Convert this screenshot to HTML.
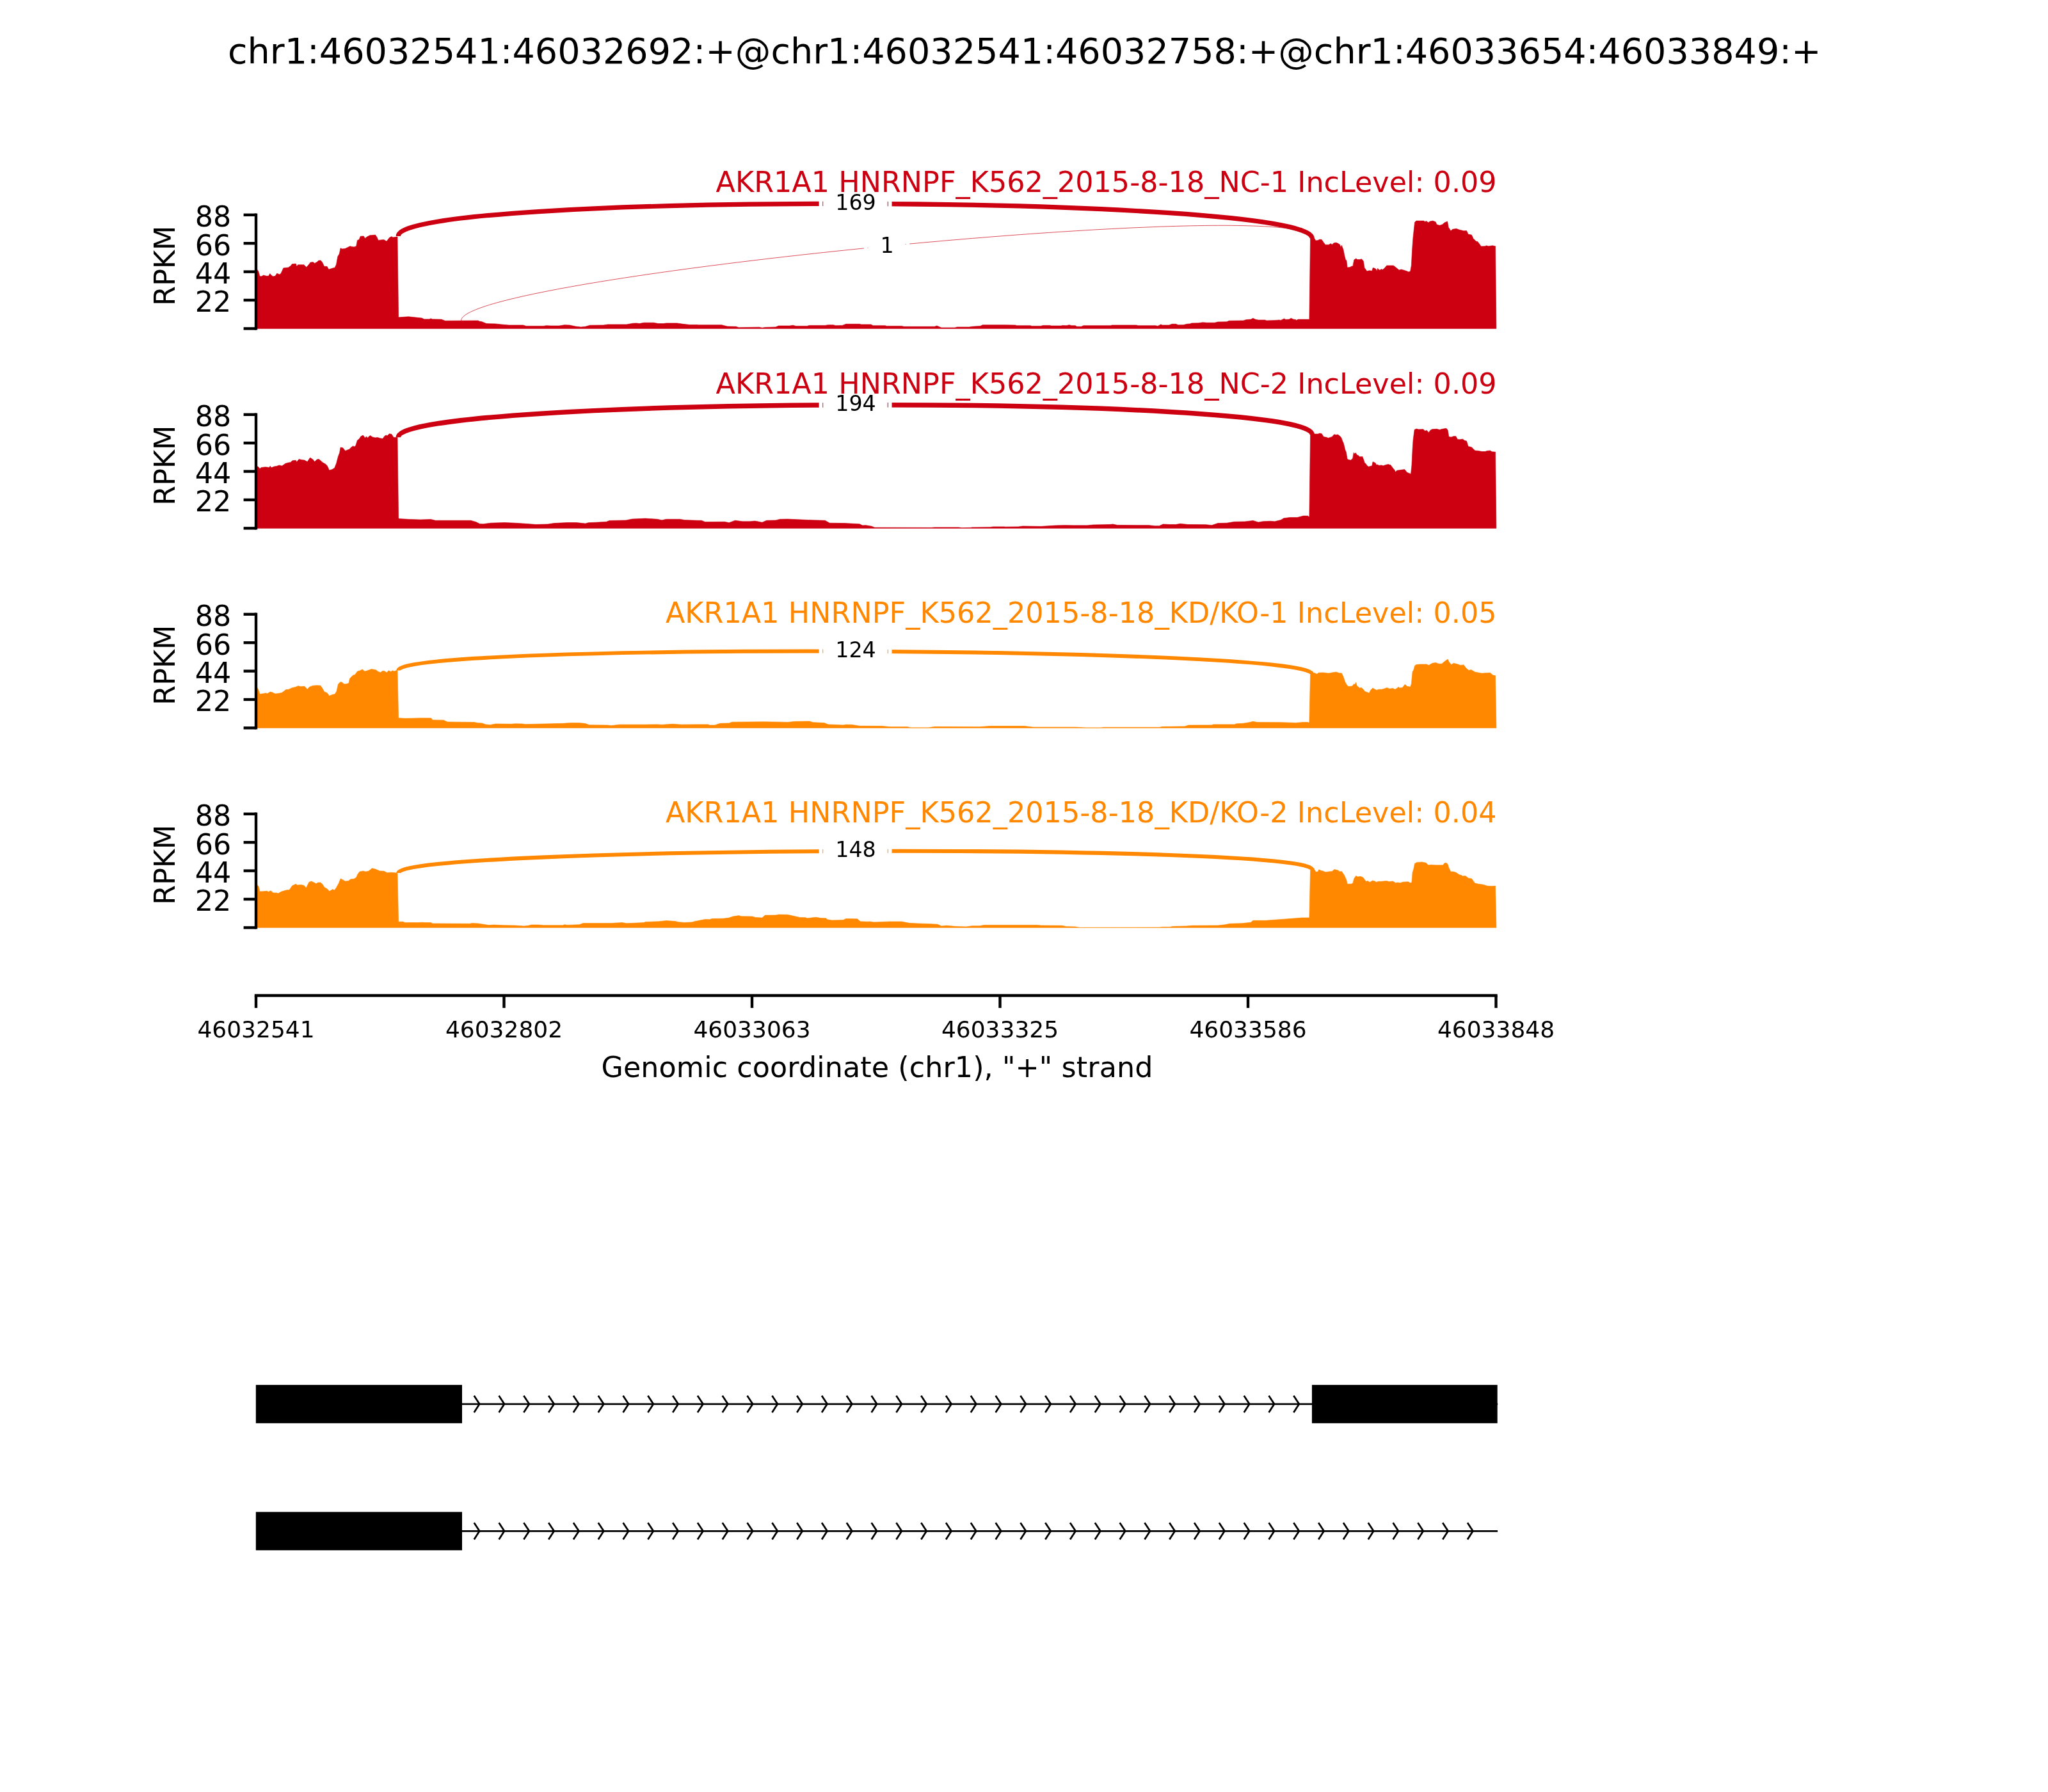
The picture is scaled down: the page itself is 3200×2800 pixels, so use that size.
<!DOCTYPE html>
<html lang="en"><head><meta charset="utf-8"><title>Sashimi plot chr1:46032541-46033849</title>
<style>
html,body{margin:0;padding:0;background:#fff;}
body{width:3200px;height:2800px;overflow:hidden;}
svg{display:block;will-change:transform;}
text{font-family:"DejaVu Sans", "Liberation Sans", sans-serif;}
.t8{font-size:44.4px;}
.t6{font-size:33.3px;}
.tx{font-size:36px;}
.ax{stroke:#000;stroke-width:4.4;fill:none;stroke-linecap:butt;}
.gm{stroke:#000;stroke-width:2.8;fill:none;stroke-linecap:butt;stroke-linejoin:miter;}
.gc{stroke-linecap:square;}
</style></head><body>
<svg width="3200" height="2800" viewBox="0 0 3200 2800">
<rect width="3200" height="2800" fill="#fff"/>
<text x="1600.8" y="98.6" text-anchor="middle" font-size="55.56px" textLength="2489.7" lengthAdjust="spacing" fill="#000">chr1:46032541:46032692:+@chr1:46032541:46032758:+@chr1:46033654:46033849:+</text>
<g>
<path d="M400 513.4L400 419.3L403.7 423.7L406 431.8L409 431.8L411.6 429.9L416 431.3L419.6 431.3L421.8 427.6L423.9 429.9L426.6 432L430.1 431.3L432.7 427.2L437.1 429L438.9 427.2L440.6 423.7L442.9 418.8L450.3 418.1L453.8 415.8L456.5 412.6L462.3 412.1L463.5 416.3L465.6 413.7L474.9 413.7L478.8 417.6L482 414L485.1 410L489 409.6L491.6 411.4L495.1 409.6L498.1 407L501.3 407L503.9 410.5L506.6 416.3L511 416.3L513.6 421.1L518.9 419.3L523.3 418.1L525.5 413.2L527.7 400.9L530.3 396.5L532.1 387.7L534.7 388.9L539.1 388.6L547 384.7L549.6 385.4L553.1 385.9L556.7 384.7L558.4 375.4L561.1 374.5L563.2 369.2L568.1 368.9L570.4 372.4L573.4 370.1L577.8 367.8L586.5 367.1L589.2 371L590.9 375.4L599.7 374.5L604.1 377.1L608.5 371.3L612 369.6L613.8 371L619.9 370.1L621 370.1L622.6 495.8L624.1 495.8L638.1 494.8L659.2 497L662.7 498.8L670.9 498.8L673.3 497.7L675.6 498.8L689.7 499.1L695.5 501.2L747.1 500.9L749.5 502.3L751.8 502.3L760 505.6L774.1 505.9L783.4 507L795.2 508L817.4 508L822.1 509.4L849.1 509.4L853.8 508.7L860.8 509.1L873.7 509.1L881.9 507.7L890.1 508L899.5 510.1L907.7 511L914.7 510.3L921.7 508.2L942.8 508L949.8 507L979.1 507L988.5 505.2L994.4 504.9L999.1 505.6L1006.1 504.2L1021.3 504.2L1028.4 505.6L1036.6 505.6L1041.2 504.9L1057.7 504.9L1067 506.3L1077.6 507.5L1090 507.5L1090 507.7L1127.5 507.7L1136.9 510.1L1149.8 510.3L1154.5 511.7L1186.1 511.2L1190.8 512.2L1195.5 511.5L1211.9 511L1216.6 509.1L1234.1 509.1L1238.8 508.2L1243.5 509.4L1261.1 509.4L1264.6 508.4L1289.2 508.4L1293.9 507.7L1302.1 507.7L1305.6 508.7L1316.2 508.4L1322 506.3L1343.1 506.3L1345.5 507L1360.7 507L1364.2 508.7L1383 508.7L1385.3 509.4L1408.8 509.4L1412.3 510.3L1460.3 510.3L1463.8 509.1L1470.9 512L1492 512L1495.5 511L1514.2 511L1518.9 510.3L1525.9 509.8L1531.8 509.4L1535.3 507.7L1570 507.7L1570 507.7L1586.4 508L1588.8 508.7L1609.8 508.7L1612.2 509.4L1626.2 509.4L1629.8 508.4L1640.3 508.4L1642.7 509.1L1657.9 509.1L1660.2 508.4L1666.1 508.7L1670.8 507.7L1674.3 508.7L1680.2 508.7L1682.5 510.3L1689.5 510.3L1693 508.7L1735.2 508.7L1737.6 508L1775.1 508L1778.6 508.7L1805.5 508.7L1809.1 509.4L1813.8 507L1816.1 508L1826.6 508L1831.3 506.3L1837.2 506.3L1840.7 507.7L1848.9 507.7L1854.8 506.3L1859.5 505.9L1861.8 504.9L1872.3 504.7L1879.4 503.8L1885.2 504.2L1898.1 504.2L1902.8 503L1916.9 502.8L1920.4 501.2L1942.7 500.9L1947.3 499.5L1954.4 499.1L1957.9 497.2L1961.4 499.1L1966.1 500L1976.6 500L1979 500.9L1991.9 500.5L1998.9 500L2001.2 500.5L2006.4 497.9L2008.8 499.3L2014.1 499.1L2017.2 497.2L2021.2 499.1L2024.7 499.5L2025.9 500.5L2028.2 499.1L2044.8 499.1L2045.9 499.3L2047.5 371.9L2053.3 371.9L2055.9 375.9L2059.4 375.4L2062.1 374.1L2065.2 374.5L2068.2 378.9L2070.9 382.4L2076.1 382.4L2079.6 380.6L2081.1 382.4L2084 379.8L2087.6 379.1L2091.1 380.6L2093.7 382.4L2094.9 386.4L2096.3 383.3L2099 390.3L2100.7 399.1L2102.5 406.1L2103.9 407L2105.1 417.9L2109.5 417.6L2111.3 416.3L2113.9 415.8L2115.7 406.1L2118.8 404L2121 405.6L2124.5 405.6L2127.5 404.7L2130.3 407.9L2132 418.4L2135.9 423.7L2139.4 422.8L2143.8 423.2L2145.2 418.4L2147.3 419L2150 420.5L2151.4 423.7L2152.6 419.3L2154.4 421.6L2156.1 422L2158.4 420.5L2160.2 421.6L2163.1 419.3L2166.7 414.9L2177.2 414.9L2180.7 417.6L2186 422L2189.5 421.1L2193.9 422.3L2198.3 423.7L2200.9 424.9L2203.6 424.1L2205.3 414.9L2206.6 390.3L2208 371L2209.7 355.2L2210.6 347.2L2212.9 345.1L2224.7 345.1L2226.4 346.4L2228.7 345.5L2231.7 347.8L2234.3 346L2238.7 345.1L2243.1 346.7L2244.9 350.8L2249.3 352.2L2253.7 350.8L2257.2 347.8L2261.6 346L2263.3 355.2L2266.9 360.8L2269.5 358.3L2275.6 357.3L2280 359L2287.1 360.8L2291.5 360.4L2294.1 366.1L2299.4 367.1L2302 372.7L2306.4 377.1L2309 377.7L2314.3 385L2320.5 384.7L2322.2 383.8L2325.7 384.7L2331.9 383.8L2336.5 384.7L2337.9 513.4L2337.9 513.4Z" fill="#CC0011" stroke="#CC0011" stroke-width="0.6" stroke-linejoin="round"/>
<path d="M622.3 368.9C622.3 299.3 2050.2 302.8 2050.2 372.3" fill="none" stroke="#CC0011" stroke-width="7.2"/>
<path d="M720.5 501C720.5 431.4 2050.2 302.7 2050.2 372.3" fill="none" stroke="#CC0011" stroke-width="0.7"/>
<rect x="1279.6" y="277.4" width="5.7" height="82" fill="#fff"/>
<rect x="1286.2" y="277.4" width="100.6" height="82" fill="#fff"/>
<rect x="1387.8" y="277.4" width="5.7" height="82" fill="#fff"/>
<text class="t6" x="1337" y="327.6" text-anchor="middle" fill="#000">169</text>
<rect x="1349.9" y="343.5" width="5.7" height="82" fill="#fff"/>
<rect x="1356.5" y="343.5" width="58.2" height="82" fill="#fff"/>
<rect x="1415.6" y="343.5" width="5.7" height="82" fill="#fff"/>
<text class="t6" x="1386" y="394.7" text-anchor="middle" fill="#000">1</text>
<path class="ax" d="M400 333.6 V515.6"/>
<path class="ax" d="M380.6 513.4 H400"/>
<path class="ax" d="M380.6 469 H400"/>
<text class="t8" x="361.2" y="487.3" text-anchor="end" fill="#000">22</text>
<path class="ax" d="M380.6 424.6 H400"/>
<text class="t8" x="361.2" y="442.9" text-anchor="end" fill="#000">44</text>
<path class="ax" d="M380.6 380.2 H400"/>
<text class="t8" x="361.2" y="398.5" text-anchor="end" fill="#000">66</text>
<path class="ax" d="M380.6 335.8 H400"/>
<text class="t8" x="361.2" y="354.1" text-anchor="end" fill="#000">88</text>
<text class="t8" transform="translate(273 415.2) rotate(-90)" text-anchor="middle" fill="#000">RPKM</text>
<text class="t8" x="2338.6" y="300" text-anchor="end" textLength="1220" lengthAdjust="spacing" fill="#CC0011">AKR1A1 HNRNPF_K562_2015-8-18_NC-1 IncLevel: 0.09</text>
</g>
<g>
<path d="M400 825.4L400 727.8L403.7 729.6L406 732.5L408.1 730.4L415.2 729.7L420.4 730.4L422.2 728.3L423.9 730.8L428.3 729L432.7 728.3L436.2 726.9L440.6 728L445.9 724.3L450.3 722.9L453.8 722.5L457.3 719.5L462.3 719.2L463.5 722L467 717.6L471.4 718.5L475.8 719L480.2 721.6L484.6 715.1L489 718.1L491.6 721.6L495.1 718.1L498.1 717.4L501.3 719.9L503.9 722.5L509.2 725.5L511.5 728.3L514.5 734.8L518.9 733.6L522.7 731.3L525.5 724.3L528.5 712.9L530.6 707.6L532.1 699.1L535.6 699.7L539.6 704.4L543.5 702.8L546.1 702L547.3 700.2L551.4 697L554 697.9L555.8 696.2L558.4 687.9L561.1 686.1L563.7 682.1L567.2 680L570.4 684.2L572.5 682.1L574.2 684.2L578.3 680.5L582.1 683L586.5 683.9L590.1 683.5L593.6 684.7L598 685.6L601.1 681.2L603.2 680L605 680.9L608.5 677.7L612 678.6L615 683.5L619.9 683.5L621 683L622.6 809.9L624.1 810.6L640.5 811.5L656.9 812L673.3 811.5L680.3 813.2L735.4 813.2L743.6 815.5L749.5 818.6L755.3 818.8L767 817.2L788.1 816.5L804.5 817.2L820.9 818.3L837.3 819.5L856.1 819L865.5 817.6L886.6 816.5L900.6 816.5L910 817.6L914.7 818.1L919.4 816.7L931.1 816.2L947.5 815.3L952.2 813.4L978 812.9L987.3 811.1L1008.4 810.1L1027.2 811.3L1034.2 812.7L1041.2 811.3L1062.3 811.3L1069.4 812.5L1090 813.2L1090 813.2L1095.9 813.2L1101.7 815.5L1132.2 815.3L1139.2 816.7L1148.6 813.2L1160.3 814.8L1172 814.8L1179.1 814.1L1183.8 814.8L1190.8 816.2L1197.8 813.2L1211.9 812.9L1218.9 811.3L1230.6 811.1L1263.4 812.5L1289.2 813.2L1296.2 817.2L1319.7 817.6L1343.1 818.8L1347.8 821.1L1352.5 820.7L1361.9 822.3L1366.6 824.2L1455.6 824.4L1460.3 824L1497.8 824L1502.5 824.7L1516.6 824.4L1518.9 824L1547 823.7L1551.7 823L1570 823L1570 823.2L1591.1 823L1598.1 822.1L1626.2 822.5L1649.7 821.1L1663.8 820.7L1677.8 820.9L1698.9 820.9L1708.3 820L1734.1 819.5L1738.8 819L1745.8 820.4L1776.2 820.7L1795 820.7L1804.4 821.8L1811.4 821.8L1817.3 819L1827.8 819.5L1837.2 819.5L1844.2 818.3L1855.9 819.5L1884.1 819.7L1893.4 820.7L1902.8 817.6L1916.9 817.2L1928.6 815.3L1945 815L1957.9 813.4L1966.1 816L1973.1 814.8L1984.8 814.3L1991.9 814.8L2001.2 812.5L2005.9 809.7L2015.3 808.5L2027 808.5L2036.4 806.1L2043.4 806.1L2044.8 807.3L2045.9 807.3L2047.5 679.1L2053.3 678.1L2059.4 678.1L2062.1 677L2065.2 677.7L2068.2 682.6L2072.6 683.3L2075.3 684.4L2081.4 682.4L2084.6 678.8L2087.6 679.5L2090.5 679.1L2093.7 681.6L2095.8 683.9L2097.6 689.1L2099.3 692.6L2101.6 702.3L2103.4 706.7L2105.1 717.3L2107.8 718.5L2110.4 719L2113.6 716.4L2115.2 707.2L2116.6 709L2118.3 707.6L2120.1 710.8L2122.2 711.6L2124.5 713.7L2128.9 713.4L2130.6 718.1L2132.4 723.4L2134.1 724.6L2136.2 727.8L2138.5 729.2L2143.8 727.8L2145 721.6L2149.1 723.4L2150.8 726.6L2152.6 726L2154.4 727.3L2158.8 726.9L2161.4 727.8L2164.9 726.4L2168.9 725.5L2172.8 726.6L2176.3 731.3L2179 734.5L2180.4 737.5L2182.5 735.2L2188.6 734.3L2194.8 733.6L2198.3 738L2200.9 739.2L2204.5 740.5L2205.9 726.9L2207.1 702.3L2208 688.2L2210.1 671.6L2212.9 670.1L2216.8 671L2223.8 670.7L2226.4 673.3L2229.4 672.4L2232.2 675.9L2235.2 672.1L2237.9 670.7L2244.9 670.3L2249.3 671.6L2253.7 670.3L2259.8 669.3L2262.1 672.1L2263.9 682.6L2267.7 683L2271.2 681.7L2274.8 681.7L2277.4 686.5L2280.9 686.8L2285.3 686.1L2288.8 688.6L2291.5 689.1L2294.1 697.4L2299.4 698.8L2304.6 704.1L2309.9 704.4L2315.2 705.5L2320.5 705.5L2324 704.4L2328.4 704.1L2331 705.8L2336.5 706.2L2337.9 825.4L2337.9 825.4Z" fill="#CC0011" stroke="#CC0011" stroke-width="0.6" stroke-linejoin="round"/>
<path d="M622.3 683.2C622.3 618.6 2050.2 614.5 2050.2 679.1" fill="none" stroke="#CC0011" stroke-width="7.5"/>
<rect x="1279.6" y="591.7" width="5.7" height="82" fill="#fff"/>
<rect x="1286.2" y="591.7" width="100.6" height="82" fill="#fff"/>
<rect x="1387.8" y="591.7" width="5.7" height="82" fill="#fff"/>
<text class="t6" x="1337" y="641.9" text-anchor="middle" fill="#000">194</text>
<path class="ax" d="M400 645.6 V827.6"/>
<path class="ax" d="M380.6 825.4 H400"/>
<path class="ax" d="M380.6 781 H400"/>
<text class="t8" x="361.2" y="799.3" text-anchor="end" fill="#000">22</text>
<path class="ax" d="M380.6 736.6 H400"/>
<text class="t8" x="361.2" y="754.9" text-anchor="end" fill="#000">44</text>
<path class="ax" d="M380.6 692.2 H400"/>
<text class="t8" x="361.2" y="710.5" text-anchor="end" fill="#000">66</text>
<path class="ax" d="M380.6 647.8 H400"/>
<text class="t8" x="361.2" y="666.1" text-anchor="end" fill="#000">88</text>
<text class="t8" transform="translate(273 727.2) rotate(-90)" text-anchor="middle" fill="#000">RPKM</text>
<text class="t8" x="2338.6" y="614.8" text-anchor="end" textLength="1220" lengthAdjust="spacing" fill="#CC0011">AKR1A1 HNRNPF_K562_2015-8-18_NC-2 IncLevel: 0.09</text>
</g>
<g>
<path d="M400 1137.4L400 1072L403.7 1077.6L406 1084.6L411.6 1083.7L415.2 1082.9L417.8 1083.7L422.2 1081.1L425.7 1082L430.1 1084.1L436.2 1083.2L440.6 1082.3L446.8 1077.6L451.2 1077.2L455.6 1075L460.9 1073.7L466.1 1071.8L469.6 1072.8L475.8 1072.3L480.2 1077.1L483.7 1073.2L489 1071.4L494.3 1070.9L500.9 1071.3L503.9 1075.8L506.9 1081.1L511 1082.5L514.5 1087.3L518.9 1085.5L523.3 1084.6L525.9 1080.2L528.5 1068.8L532.1 1065.6L534.7 1066.2L537.3 1068.8L540.8 1068.8L544.9 1067.4L546.6 1060L551.4 1055.3L554.9 1053.9L558.4 1049.1L562.8 1047.7L566.3 1046L569.8 1049.1L573.4 1048.1L580.4 1045.6L587.4 1046.8L590.9 1049.5L594.5 1050.7L598 1048.2L600.6 1048.6L604.1 1050.9L607.6 1047.7L610.3 1049.5L613.8 1047.7L615.5 1048.9L619.9 1047.4L621 1047.4L622.6 1121.9L624.1 1121.9L633.4 1122.6L656.9 1121.9L673.8 1122.1L675.6 1124.9L693.2 1125.2L699.1 1128L741.2 1128.5L745.9 1129.6L753 1129.9L758.8 1132L765.9 1132.7L774.1 1131L799.8 1131.3L804.5 1130.8L816.2 1131L820.9 1131.7L851.4 1131L879.5 1130.3L891.2 1129.6L905.3 1129.6L914.7 1130.6L920.5 1132.7L949.8 1133.1L954.5 1133.8L968.6 1132.2L1008.4 1132.2L1027.2 1132L1034.2 1132.4L1050.6 1131.3L1064.7 1132.2L1090 1132L1090 1132L1106.4 1132L1108.8 1133.1L1117 1133.1L1125.2 1130.3L1139.2 1129.9L1143.9 1128.2L1193.1 1127.8L1221.2 1128.2L1230.6 1128.5L1242.3 1127.3L1264.6 1127L1270.5 1128.7L1288 1129.6L1293.9 1132L1317.3 1132.9L1322 1132.2L1331.4 1132.4L1343.1 1134.3L1378.3 1134.5L1390 1135.7L1418.1 1135.7L1422.8 1136.9L1450.9 1136.9L1460.3 1135.5L1530.6 1135.7L1547 1134.5L1570 1134.5L1570 1134.5L1600.5 1134.5L1614.5 1136.2L1680.2 1136.2L1696.6 1137.1L1720 1137.1L1724.7 1136.4L1811.4 1136.4L1816.1 1135.5L1851.2 1135L1857.1 1133.1L1893.4 1132.9L1895.8 1132L1928.6 1132L1932.1 1130.8L1942.7 1130.3L1952 1128.7L1957.9 1127.3L1963.8 1128.5L2001.2 1128.7L2024.7 1129.4L2036.4 1128.5L2043.4 1128.5L2044.8 1129.2L2045.9 1128.6L2047.5 1053.3L2053.3 1051.2L2057.7 1053.3L2060.3 1051.2L2067.3 1050.9L2076.1 1052.1L2081.4 1050.9L2087.6 1050L2092.8 1051.8L2096.3 1051.8L2099 1057.4L2101.6 1065.3L2105.1 1071.4L2107.8 1072.7L2113 1072L2115.7 1068.5L2116.9 1069.7L2118.7 1066.2L2120.1 1071.4L2124.5 1075L2127.1 1074.4L2130.6 1077.6L2132.4 1080.2L2139.4 1082.9L2141.5 1078.5L2145 1075L2148.2 1077.1L2151.4 1078.5L2153.5 1077.2L2158.8 1077.2L2164 1075.8L2166.7 1074.6L2171.1 1076.2L2176.3 1075.5L2179.8 1077.2L2183.4 1075L2185.1 1073.2L2186.5 1075L2191.3 1074.4L2195.3 1069.3L2198.3 1072.3L2203.6 1073.2L2205.3 1068.8L2207.1 1049.5L2208.8 1046.8L2210.6 1040.3L2212.9 1038.6L2218.5 1038L2229.1 1038L2232.6 1039.4L2237.9 1036.3L2243.1 1035.4L2248.4 1037.2L2252.8 1037.2L2257.2 1033.6L2262.1 1030.1L2264.2 1034.5L2267.7 1038.6L2271.2 1036.3L2276.5 1037.5L2281.8 1039.4L2287.1 1038.9L2290.6 1043.8L2295 1047.4L2298.5 1046.5L2304.6 1050L2315.2 1052.1L2322.2 1051.6L2328.4 1051.2L2332.8 1055.1L2336.5 1055.6L2337.9 1137.4L2337.9 1137.4Z" fill="#FF8800" stroke="#FF8800" stroke-width="0.6" stroke-linejoin="round"/>
<path d="M622.3 1047.4C622.3 1003.9 2050.2 1009.8 2050.2 1053.3" fill="none" stroke="#FF8800" stroke-width="5.9"/>
<rect x="1279.6" y="976.7" width="5.7" height="82" fill="#fff"/>
<rect x="1286.2" y="976.7" width="100.6" height="82" fill="#fff"/>
<rect x="1387.8" y="976.7" width="5.7" height="82" fill="#fff"/>
<text class="t6" x="1337" y="1026.9" text-anchor="middle" fill="#000">124</text>
<path class="ax" d="M400 957.6 V1139.6"/>
<path class="ax" d="M380.6 1137.4 H400"/>
<path class="ax" d="M380.6 1093 H400"/>
<text class="t8" x="361.2" y="1111.3" text-anchor="end" fill="#000">22</text>
<path class="ax" d="M380.6 1048.6 H400"/>
<text class="t8" x="361.2" y="1066.9" text-anchor="end" fill="#000">44</text>
<path class="ax" d="M380.6 1004.2 H400"/>
<text class="t8" x="361.2" y="1022.5" text-anchor="end" fill="#000">66</text>
<path class="ax" d="M380.6 959.8 H400"/>
<text class="t8" x="361.2" y="978.1" text-anchor="end" fill="#000">88</text>
<text class="t8" transform="translate(273 1039.2) rotate(-90)" text-anchor="middle" fill="#000">RPKM</text>
<text class="t8" x="2338.6" y="972.6" text-anchor="end" textLength="1298.7" lengthAdjust="spacing" fill="#FF8800">AKR1A1 HNRNPF_K562_2015-8-18_KD/KO-1 IncLevel: 0.05</text>
</g>
<g>
<path d="M400 1449.4L400 1380.5L404.1 1385.2L406 1393.1L411.6 1392.8L416.9 1392.2L419.6 1393.5L423.1 1391.7L426.6 1394.9L432.7 1395.2L434.5 1396.1L439.8 1393.1L447.7 1390.8L452.1 1390.5L456.5 1384L462.3 1381.3L464 1382.9L470.5 1382.6L474.9 1383.4L478.4 1387.3L482.8 1378.5L486.3 1376.9L490.7 1379L493.9 1380.8L496.9 1379L500.9 1379L503.9 1381.7L506.9 1386.4L511 1388.7L514.8 1392.6L519.7 1389.6L522.4 1391L525 1387.8L529.4 1379.9L532.1 1372.9L535.6 1374.7L539.6 1376.9L544.4 1376.4L547.9 1373.8L553.1 1373.2L556.7 1371.1L558.9 1365.9L561.9 1362L567.2 1360.9L571.6 1362L576 1361.1L581.3 1356.7L586.5 1358L593.6 1360.9L599.7 1361.1L605 1363.8L610.3 1363.2L615.5 1363.6L619.9 1364.1L621 1364.6L622.6 1440.2L624.1 1440.2L629.9 1440.2L632.3 1441.4L652.2 1441.6L659.2 1441.2L665.1 1441.6L673.3 1441.4L675.6 1443L734.2 1443.3L737.7 1442.6L747.1 1443L755.3 1444.2L763.5 1445.6L771.7 1445.1L788.1 1445.8L804.5 1446.1L818.6 1447L825.6 1446.3L830.3 1445.1L842 1445.1L849.1 1445.8L879.5 1445.8L881.9 1444.7L886.6 1445.4L905.3 1444.7L911.2 1442.6L954.5 1442.6L972.1 1441.6L979.1 1442.8L1006.1 1441.6L1008.4 1440.5L1029.5 1439.8L1041.2 1438.6L1055.3 1439.5L1060 1440.7L1069.4 1441.4L1081.1 1440.9L1087 1439.3L1090 1439L1090 1438.8L1101.7 1436.5L1108.8 1436.7L1112.3 1435.5L1129.8 1435.3L1139.2 1434.1L1145.1 1432L1154.5 1430.6L1158 1431.8L1175.5 1432L1180.2 1433.4L1190.8 1434.1L1195.5 1430.1L1211.9 1429.9L1216.6 1429L1230.6 1429.2L1240 1431.3L1249.4 1433.4L1258.8 1433.7L1261.1 1434.8L1275.2 1433.2L1282.2 1434.6L1290.4 1434.8L1292.7 1436.7L1299.8 1437.9L1317.3 1437.6L1322 1435.5L1339.6 1435.8L1344.3 1439.8L1354.8 1440.2L1359.5 1440L1365.4 1440.9L1390 1440L1408.8 1440L1420.5 1442.3L1434.5 1443L1450.9 1443.5L1465 1444.2L1470.9 1447L1479.1 1446.3L1493.1 1447.5L1509.5 1448L1518.9 1446.8L1530.6 1446.8L1537.7 1445.4L1570 1445.4L1570 1445.4L1621.6 1445.4L1626.2 1446.1L1659.1 1446.3L1666.1 1447.7L1680.2 1448L1687.2 1449.4L1811.4 1449.1L1816.1 1448.4L1827.8 1448.4L1832.5 1447.5L1853.6 1447L1863 1446.3L1902.8 1446.1L1914.5 1444.7L1921.6 1443.3L1940.3 1442.8L1954.4 1441.2L1957.9 1438.3L1977.8 1438.3L2005.9 1436.2L2034.1 1434.1L2044.8 1433.9L2045.9 1433.9L2047.5 1358.8L2052.4 1356.2L2055.9 1362.3L2059.4 1362L2060.7 1358.8L2063.8 1360.2L2067.3 1361.1L2070.9 1362.7L2076.1 1362L2081.4 1361.5L2084.9 1358.5L2090.2 1359.7L2093.7 1362L2096.3 1361.5L2099.9 1366.7L2102.5 1372L2103.9 1375.5L2105.1 1381.2L2111.3 1381.2L2113.9 1379.9L2115.7 1372.9L2118.7 1368.5L2121 1369.9L2126.2 1369.4L2130.3 1371.5L2132.4 1374.7L2134.5 1377.3L2136.8 1376.4L2140.3 1378.5L2144.7 1375.9L2148.2 1376.9L2150.8 1378.5L2153.5 1377.3L2157.9 1377.3L2161.4 1376.9L2166.7 1376.4L2170.2 1377.6L2176.3 1376.9L2180.7 1379.6L2183.4 1379L2187.8 1379.6L2192.1 1378.2L2200.1 1377.8L2203.6 1379.6L2205.9 1379L2207.1 1363.2L2208.8 1358L2210.6 1349.2L2214.1 1347.4L2222 1346.9L2228.2 1348.3L2231.7 1351.8L2236.1 1351.3L2243.1 1351.8L2254.6 1351.8L2257.2 1348.6L2259.8 1348.3L2262.1 1350.4L2263.9 1356.2L2266.9 1362L2271.2 1362L2275.6 1363.6L2280 1366.7L2283.6 1367.6L2285.3 1369L2289.7 1368.5L2294.1 1372L2299.4 1372.9L2304.6 1379.9L2309.9 1381.2L2317 1382.2L2324 1384.3L2331 1384.7L2336.5 1384.3L2337.9 1449.4L2337.9 1449.4Z" fill="#FF8800" stroke="#FF8800" stroke-width="0.6" stroke-linejoin="round"/>
<path d="M622.3 1364.1C622.3 1322 2050.2 1316.7 2050.2 1358.8" fill="none" stroke="#FF8800" stroke-width="6.1"/>
<rect x="1279.6" y="1288.9" width="5.7" height="82" fill="#fff"/>
<rect x="1286.2" y="1288.9" width="100.6" height="82" fill="#fff"/>
<rect x="1387.8" y="1288.9" width="5.7" height="82" fill="#fff"/>
<text class="t6" x="1337" y="1339.1" text-anchor="middle" fill="#000">148</text>
<path class="ax" d="M400 1269.6 V1451.6"/>
<path class="ax" d="M380.6 1449.4 H400"/>
<path class="ax" d="M380.6 1405 H400"/>
<text class="t8" x="361.2" y="1423.3" text-anchor="end" fill="#000">22</text>
<path class="ax" d="M380.6 1360.6 H400"/>
<text class="t8" x="361.2" y="1378.9" text-anchor="end" fill="#000">44</text>
<path class="ax" d="M380.6 1316.2 H400"/>
<text class="t8" x="361.2" y="1334.5" text-anchor="end" fill="#000">66</text>
<path class="ax" d="M380.6 1271.8 H400"/>
<text class="t8" x="361.2" y="1290.1" text-anchor="end" fill="#000">88</text>
<text class="t8" transform="translate(273 1351.2) rotate(-90)" text-anchor="middle" fill="#000">RPKM</text>
<text class="t8" x="2338.6" y="1284.7" text-anchor="end" textLength="1298.7" lengthAdjust="spacing" fill="#FF8800">AKR1A1 HNRNPF_K562_2015-8-18_KD/KO-2 IncLevel: 0.04</text>
</g>
<g>
<path class="ax" d="M397.8 1555.5 H2339.7"/>
<path class="ax" d="M400 1555.5 V1574.9"/>
<text class="tx" x="400" y="1621" text-anchor="middle" fill="#000">46032541</text>
<path class="ax" d="M787.5 1555.5 V1574.9"/>
<text class="tx" x="787.5" y="1621" text-anchor="middle" fill="#000">46032802</text>
<path class="ax" d="M1175 1555.5 V1574.9"/>
<text class="tx" x="1175" y="1621" text-anchor="middle" fill="#000">46033063</text>
<path class="ax" d="M1562.5 1555.5 V1574.9"/>
<text class="tx" x="1562.5" y="1621" text-anchor="middle" fill="#000">46033325</text>
<path class="ax" d="M1950 1555.5 V1574.9"/>
<text class="tx" x="1950" y="1621" text-anchor="middle" fill="#000">46033586</text>
<path class="ax" d="M2337.5 1555.5 V1574.9"/>
<text class="tx" x="2337.5" y="1621" text-anchor="middle" fill="#000">46033848</text>
<text class="t8" x="1370.4" y="1683" text-anchor="middle" textLength="861.9" lengthAdjust="spacing" fill="#000">Genomic coordinate (chr1), &quot;+&quot; strand</text>
</g>
<g>
<path class="gm" d="M400 2193.8 H2340.1"/>
<path class="gm gc" d="M431.1 2181.9L438.8 2193.8L431.1 2205.8M469.9 2181.9L477.6 2193.8L469.9 2205.8M508.7 2181.9L516.4 2193.8L508.7 2205.8M547.5 2181.9L555.2 2193.8L547.5 2205.8M586.3 2181.9L594 2193.8L586.3 2205.8M625.1 2181.9L632.8 2193.8L625.1 2205.8M663.9 2181.9L671.6 2193.8L663.9 2205.8M702.7 2181.9L710.4 2193.8L702.7 2205.8M741.5 2181.9L749.2 2193.8L741.5 2205.8M780.3 2181.9L788 2193.8L780.3 2205.8M819.1 2181.9L826.9 2193.8L819.1 2205.8M857.9 2181.9L865.7 2193.8L857.9 2205.8M896.7 2181.9L904.5 2193.8L896.7 2205.8M935.5 2181.9L943.3 2193.8L935.5 2205.8M974.3 2181.9L982.1 2193.8L974.3 2205.8M1013.1 2181.9L1020.9 2193.8L1013.1 2205.8M1051.9 2181.9L1059.7 2193.8L1051.9 2205.8M1090.7 2181.9L1098.5 2193.8L1090.7 2205.8M1129.5 2181.9L1137.3 2193.8L1129.5 2205.8M1168.3 2181.9L1176.1 2193.8L1168.3 2205.8M1207.2 2181.9L1214.9 2193.8L1207.2 2205.8M1246 2181.9L1253.7 2193.8L1246 2205.8M1284.8 2181.9L1292.5 2193.8L1284.8 2205.8M1323.6 2181.9L1331.3 2193.8L1323.6 2205.8M1362.4 2181.9L1370.1 2193.8L1362.4 2205.8M1401.2 2181.9L1408.9 2193.8L1401.2 2205.8M1440 2181.9L1447.7 2193.8L1440 2205.8M1478.8 2181.9L1486.5 2193.8L1478.8 2205.8M1517.6 2181.9L1525.3 2193.8L1517.6 2205.8M1556.4 2181.9L1564.2 2193.8L1556.4 2205.8M1595.2 2181.9L1603 2193.8L1595.2 2205.8M1634 2181.9L1641.8 2193.8L1634 2205.8M1672.8 2181.9L1680.6 2193.8L1672.8 2205.8M1711.6 2181.9L1719.4 2193.8L1711.6 2205.8M1750.4 2181.9L1758.2 2193.8L1750.4 2205.8M1789.2 2181.9L1797 2193.8L1789.2 2205.8M1828 2181.9L1835.8 2193.8L1828 2205.8M1866.8 2181.9L1874.6 2193.8L1866.8 2205.8M1905.6 2181.9L1913.4 2193.8L1905.6 2205.8M1944.5 2181.9L1952.2 2193.8L1944.5 2205.8M1983.3 2181.9L1991 2193.8L1983.3 2205.8M2022.1 2181.9L2029.8 2193.8L2022.1 2205.8M2060.9 2181.9L2068.6 2193.8L2060.9 2205.8M2099.7 2181.9L2107.4 2193.8L2099.7 2205.8M2138.5 2181.9L2146.2 2193.8L2138.5 2205.8M2177.3 2181.9L2185 2193.8L2177.3 2205.8M2216.1 2181.9L2223.8 2193.8L2216.1 2205.8M2254.9 2181.9L2262.6 2193.8L2254.9 2205.8M2293.7 2181.9L2301.4 2193.8L2293.7 2205.8"/>
<rect x="399.8" y="2163.9" width="322.2" height="59.9" fill="#000"/>
<rect x="2049.9" y="2163.9" width="289.8" height="59.9" fill="#000"/>
<path class="gm" d="M400 2392.3 H2340.1"/>
<path class="gm gc" d="M431.1 2380.4L438.8 2392.3L431.1 2404.2M469.9 2380.4L477.6 2392.3L469.9 2404.2M508.7 2380.4L516.4 2392.3L508.7 2404.2M547.5 2380.4L555.2 2392.3L547.5 2404.2M586.3 2380.4L594 2392.3L586.3 2404.2M625.1 2380.4L632.8 2392.3L625.1 2404.2M663.9 2380.4L671.6 2392.3L663.9 2404.2M702.7 2380.4L710.4 2392.3L702.7 2404.2M741.5 2380.4L749.2 2392.3L741.5 2404.2M780.3 2380.4L788 2392.3L780.3 2404.2M819.1 2380.4L826.9 2392.3L819.1 2404.2M857.9 2380.4L865.7 2392.3L857.9 2404.2M896.7 2380.4L904.5 2392.3L896.7 2404.2M935.5 2380.4L943.3 2392.3L935.5 2404.2M974.3 2380.4L982.1 2392.3L974.3 2404.2M1013.1 2380.4L1020.9 2392.3L1013.1 2404.2M1051.9 2380.4L1059.7 2392.3L1051.9 2404.2M1090.7 2380.4L1098.5 2392.3L1090.7 2404.2M1129.5 2380.4L1137.3 2392.3L1129.5 2404.2M1168.3 2380.4L1176.1 2392.3L1168.3 2404.2M1207.2 2380.4L1214.9 2392.3L1207.2 2404.2M1246 2380.4L1253.7 2392.3L1246 2404.2M1284.8 2380.4L1292.5 2392.3L1284.8 2404.2M1323.6 2380.4L1331.3 2392.3L1323.6 2404.2M1362.4 2380.4L1370.1 2392.3L1362.4 2404.2M1401.2 2380.4L1408.9 2392.3L1401.2 2404.2M1440 2380.4L1447.7 2392.3L1440 2404.2M1478.8 2380.4L1486.5 2392.3L1478.8 2404.2M1517.6 2380.4L1525.3 2392.3L1517.6 2404.2M1556.4 2380.4L1564.2 2392.3L1556.4 2404.2M1595.2 2380.4L1603 2392.3L1595.2 2404.2M1634 2380.4L1641.8 2392.3L1634 2404.2M1672.8 2380.4L1680.6 2392.3L1672.8 2404.2M1711.6 2380.4L1719.4 2392.3L1711.6 2404.2M1750.4 2380.4L1758.2 2392.3L1750.4 2404.2M1789.2 2380.4L1797 2392.3L1789.2 2404.2M1828 2380.4L1835.8 2392.3L1828 2404.2M1866.8 2380.4L1874.6 2392.3L1866.8 2404.2M1905.6 2380.4L1913.4 2392.3L1905.6 2404.2M1944.5 2380.4L1952.2 2392.3L1944.5 2404.2M1983.3 2380.4L1991 2392.3L1983.3 2404.2M2022.1 2380.4L2029.8 2392.3L2022.1 2404.2M2060.9 2380.4L2068.6 2392.3L2060.9 2404.2M2099.7 2380.4L2107.4 2392.3L2099.7 2404.2M2138.5 2380.4L2146.2 2392.3L2138.5 2404.2M2177.3 2380.4L2185 2392.3L2177.3 2404.2M2216.1 2380.4L2223.8 2392.3L2216.1 2404.2M2254.9 2380.4L2262.6 2392.3L2254.9 2404.2M2293.7 2380.4L2301.4 2392.3L2293.7 2404.2"/>
<rect x="399.8" y="2362.4" width="322.2" height="59.9" fill="#000"/>
</g>
</svg></body></html>
